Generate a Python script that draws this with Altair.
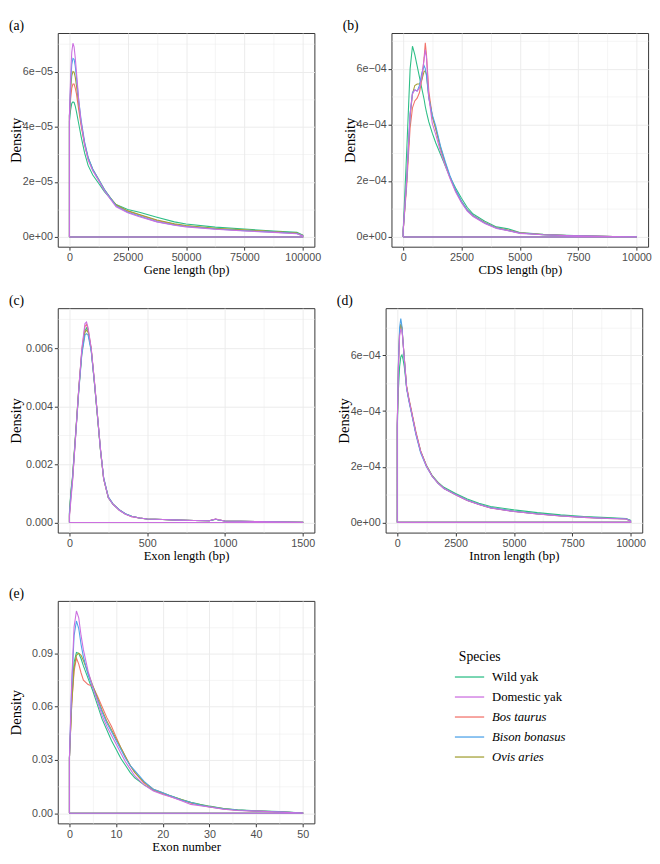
import json
import altair as alt
import pandas as pd

species = ["Wild yak", "Domestic yak", "Bos taurus", "Bison bonasus", "Ovis aries"]
colors = ["#2DBE86", "#CC6FE0", "#F2736B", "#4DA3E8", "#A3A035"]
draw_order = ["Wild yak", "Bos taurus", "Ovis aries", "Bison bonasus", "Domestic yak"]
italic_names = ["Bos taurus", "Bison bonasus", "Ovis aries"]

# (a) gene length, density in units of 1e-5
a_x = [0, 500, 1000, 1500, 2000, 2500, 3000, 4000, 5000, 6500, 8000, 10000, 12500, 15000,
       17500, 20000, 25000, 30000, 37500, 45000, 50000, 62500, 75000, 87500, 97500, 100000]
a_wild = [4.2, 4.6, 4.85, 4.9, 4.88, 4.75, 4.55, 4.1, 3.65, 3.05, 2.6, 2.25, 1.95, 1.65,
          1.4, 1.18, 1.0, 0.9, 0.72, 0.55, 0.47, 0.36, 0.29, 0.22, 0.17, 0.07]
a_dom = [4.4, 5.8, 6.7, 7.03, 6.9, 6.5, 6.0, 4.95, 4.15, 3.35, 2.8, 2.4, 2.05, 1.68,
         1.38, 1.1, 0.88, 0.74, 0.55, 0.43, 0.37, 0.28, 0.22, 0.17, 0.12, 0.04]
a_bos = [4.4, 5.0, 5.4, 5.55, 5.55, 5.4, 5.2, 4.6, 4.05, 3.35, 2.85, 2.45, 2.08, 1.7,
         1.42, 1.15, 0.94, 0.8, 0.6, 0.46, 0.4, 0.3, 0.24, 0.19, 0.14, 0.05]
a_bison = [4.4, 5.5, 6.25, 6.48, 6.45, 6.2, 5.8, 4.95, 4.25, 3.45, 2.9, 2.47, 2.1, 1.72,
           1.42, 1.13, 0.9, 0.76, 0.56, 0.44, 0.38, 0.29, 0.23, 0.18, 0.13, 0.05]
a_ovis = [4.4, 5.3, 5.85, 6.0, 5.98, 5.8, 5.5, 4.8, 4.15, 3.4, 2.88, 2.45, 2.1, 1.72,
          1.43, 1.17, 0.95, 0.82, 0.62, 0.48, 0.42, 0.32, 0.26, 0.2, 0.15, 0.06]
a_unit = 1e-5

# (b) CDS length, density in units of 1e-4
b_x = [0, 150, 300, 400, 500, 600, 700, 800, 900, 950, 1000, 1100, 1250, 1400, 1600, 1800,
       2000, 2250, 2500, 2750, 3000, 3500, 4000, 4500, 5000, 6000, 7000, 8000, 9000, 10000]
b_wild = [0.2, 3.0, 6.0, 6.8, 6.5, 6.1, 5.7, 5.3, 4.9, 4.65, 4.45, 4.1, 3.7, 3.35, 2.95, 2.55,
          2.15, 1.75, 1.38, 1.05, 0.82, 0.56, 0.36, 0.29, 0.16, 0.1, 0.06, 0.035, 0.02, 0.01]
b_dom = [0.2, 2.0, 4.4, 5.1, 5.25, 5.2, 5.3, 5.7, 6.35, 6.67, 6.4, 5.0, 4.05, 3.65, 3.05, 2.55,
         2.1, 1.6, 1.22, 0.92, 0.73, 0.48, 0.3, 0.22, 0.13, 0.08, 0.05, 0.03, 0.02, 0.01]
b_bos = [0.2, 1.8, 3.9, 4.6, 4.85, 4.95, 5.15, 5.6, 6.4, 6.92, 6.5, 5.2, 4.3, 3.85, 3.15, 2.6,
         2.15, 1.65, 1.27, 0.97, 0.77, 0.52, 0.33, 0.25, 0.15, 0.09, 0.05, 0.03, 0.02, 0.01]
b_bison = [0.2, 2.0, 4.4, 5.15, 5.24, 5.2, 5.4, 5.85, 6.1, 6.0, 5.75, 4.95, 4.35, 3.95, 3.25, 2.7,
           2.2, 1.68, 1.27, 0.96, 0.76, 0.5, 0.32, 0.23, 0.14, 0.08, 0.05, 0.03, 0.02, 0.01]
b_ovis = [0.2, 2.0, 4.3, 5.1, 5.4, 5.45, 5.45, 5.6, 5.9, 5.92, 5.8, 5.0, 4.3, 3.85, 3.2, 2.65,
          2.15, 1.65, 1.25, 0.95, 0.75, 0.5, 0.32, 0.23, 0.14, 0.08, 0.05, 0.03, 0.02, 0.01]
b_unit = 1e-4

# (c) exon length, density in units of 1e-3
c_x = [0, 10, 20, 40, 60, 80, 100, 110, 120, 140, 160, 180, 200, 220, 250, 280, 320, 360, 400,
       450, 500, 600, 700, 800, 900, 920, 940, 960, 1000, 1100, 1200, 1300, 1400, 1500]
c_wild = [0.35, 1.1, 1.6, 3.1, 4.6, 5.9, 6.6, 6.7, 6.6, 5.95, 4.85, 3.65, 2.45, 1.5, 0.85, 0.62,
          0.43, 0.29, 0.21, 0.15, 0.12, 0.1, 0.08, 0.065, 0.06, 0.085, 0.11, 0.085, 0.05, 0.04,
          0.03, 0.02, 0.012, 0.005]
c_dom = [0.2, 0.8, 1.4, 3.0, 4.6, 6.0, 6.85, 6.9, 6.7, 6.0, 4.9, 3.7, 2.5, 1.5, 0.85, 0.62,
         0.42, 0.28, 0.2, 0.15, 0.12, 0.1, 0.08, 0.065, 0.06, 0.09, 0.12, 0.09, 0.05, 0.04,
         0.03, 0.02, 0.012, 0.005]
c_bos = [0.25, 0.9, 1.45, 3.0, 4.6, 5.95, 6.75, 6.82, 6.65, 6.0, 4.9, 3.72, 2.5, 1.52, 0.87, 0.64,
         0.44, 0.29, 0.2, 0.15, 0.12, 0.1, 0.08, 0.065, 0.06, 0.09, 0.12, 0.09, 0.05, 0.04,
         0.03, 0.02, 0.012, 0.005]
c_bison = [0.3, 1.0, 1.5, 3.0, 4.5, 5.8, 6.45, 6.5, 6.45, 5.9, 4.85, 3.7, 2.5, 1.55, 0.88, 0.64,
           0.44, 0.3, 0.21, 0.15, 0.12, 0.1, 0.08, 0.065, 0.06, 0.085, 0.11, 0.085, 0.05, 0.04,
           0.03, 0.02, 0.012, 0.005]
c_ovis = [0.3, 1.05, 1.55, 3.05, 4.55, 5.85, 6.55, 6.62, 6.55, 5.95, 4.85, 3.68, 2.48, 1.52, 0.86,
          0.63, 0.43, 0.29, 0.21, 0.15, 0.12, 0.1, 0.08, 0.065, 0.06, 0.085, 0.11, 0.085, 0.05,
          0.04, 0.03, 0.02, 0.012, 0.005]
c_unit = 1e-3

# (d) intron length, density in units of 1e-4
d_x = [0, 50, 100, 150, 200, 250, 300, 400, 500, 600, 800, 1000, 1250, 1500, 1750, 2000, 2500,
       3000, 3500, 4000, 5000, 6000, 7000, 8000, 9000, 9800, 10000]
d_wild = [3.4, 4.8, 5.6, 5.95, 6.02, 5.85, 5.6, 4.85, 4.4, 4.0, 3.2, 2.55, 2.05, 1.68, 1.44, 1.26,
          1.04, 0.84, 0.69, 0.57, 0.45, 0.35, 0.27, 0.21, 0.17, 0.14, 0.07]
d_dom = [3.6, 5.6, 6.7, 6.93, 6.9, 6.45, 5.9, 4.85, 4.4, 4.0, 3.2, 2.55, 2.02, 1.65, 1.4, 1.22,
         0.99, 0.79, 0.64, 0.52, 0.39, 0.3, 0.23, 0.18, 0.14, 0.12, 0.05]
d_bos = [3.5, 5.65, 6.85, 7.1, 6.98, 6.45, 5.92, 4.9, 4.45, 4.05, 3.25, 2.58, 2.04, 1.66, 1.41,
         1.22, 0.99, 0.79, 0.64, 0.52, 0.39, 0.3, 0.23, 0.18, 0.14, 0.12, 0.05]
d_bison = [3.5, 5.8, 7.0, 7.33, 7.05, 6.45, 5.85, 4.8, 4.35, 3.95, 3.15, 2.5, 2.0, 1.65, 1.4, 1.22,
           1.0, 0.8, 0.65, 0.53, 0.4, 0.31, 0.24, 0.19, 0.15, 0.13, 0.06]
d_ovis = [3.5, 5.7, 6.9, 7.13, 7.0, 6.45, 5.9, 4.85, 4.4, 4.0, 3.2, 2.55, 2.03, 1.66, 1.41, 1.23,
          1.0, 0.8, 0.65, 0.53, 0.4, 0.31, 0.24, 0.19, 0.15, 0.13, 0.06]
d_unit = 1e-4

# (e) exon number, density
e_x = [0, 0.5, 1, 1.5, 2, 2.5, 3, 4, 5, 6, 7, 8, 9, 10, 11, 12, 13, 14, 16, 18, 20, 22, 24, 26,
       28, 30, 33, 36, 40, 45, 50]
e_wild = [0.031, 0.065, 0.085, 0.0906, 0.090, 0.087, 0.083, 0.076, 0.069, 0.061, 0.053, 0.047,
          0.041, 0.036, 0.031, 0.027, 0.023, 0.020, 0.016, 0.013, 0.011, 0.0095, 0.0078, 0.0062,
          0.005, 0.004, 0.0027, 0.0019, 0.0014, 0.0009, 0.0002]
e_dom = [0.031, 0.075, 0.105, 0.1139, 0.110, 0.100, 0.092, 0.080, 0.071, 0.063, 0.055, 0.049,
         0.044, 0.039, 0.034, 0.029, 0.025, 0.021, 0.016, 0.0125, 0.0105, 0.009, 0.007, 0.005,
         0.0042, 0.0035, 0.0023, 0.0016, 0.0012, 0.0007, 0.0002]
e_bos = [0.031, 0.062, 0.080, 0.0874, 0.084, 0.079, 0.075, 0.0725, 0.0715, 0.066, 0.060, 0.054,
         0.049, 0.043, 0.037, 0.032, 0.027, 0.023, 0.017, 0.0132, 0.011, 0.009, 0.0073, 0.0057,
         0.0045, 0.0036, 0.0024, 0.0017, 0.0012, 0.0007, 0.0002]
e_bison = [0.031, 0.072, 0.100, 0.1083, 0.104, 0.095, 0.088, 0.078, 0.071, 0.064, 0.057, 0.051,
           0.046, 0.041, 0.036, 0.031, 0.027, 0.024, 0.018, 0.0135, 0.0115, 0.0095, 0.0075, 0.006,
           0.0047, 0.0037, 0.0025, 0.0018, 0.0013, 0.0008, 0.0002]
e_ovis = [0.031, 0.062, 0.082, 0.089, 0.0902, 0.089, 0.086, 0.079, 0.072, 0.065, 0.058, 0.052,
          0.047, 0.042, 0.037, 0.032, 0.027, 0.023, 0.0175, 0.0135, 0.0115, 0.0095, 0.0077, 0.006,
          0.0048, 0.0038, 0.0026, 0.0018, 0.0013, 0.0008, 0.0002]
e_unit = 1.0

# tick labels
a_xticks = [0, 25000, 50000, 75000, 100000]
a_xlabels = ["0", "25000", "50000", "75000", "100000"]
a_yticks = [0, 2e-5, 4e-5, 6e-5]
a_ylabels = ["0e+00", "2e\u221205", "4e\u221205", "6e\u221205"]
b_xticks = [0, 2500, 5000, 7500, 10000]
b_xlabels = ["0", "2500", "5000", "7500", "10000"]
b_yticks = [0, 2e-4, 4e-4, 6e-4]
b_ylabels = ["0e+00", "2e\u221204", "4e\u221204", "6e\u221204"]
c_xticks = [0, 500, 1000, 1500]
c_xlabels = ["0", "500", "1000", "1500"]
c_yticks = [0, 0.002, 0.004, 0.006]
c_ylabels = ["0.000", "0.002", "0.004", "0.006"]
d_xticks = b_xticks
d_xlabels = b_xlabels
d_yticks = b_yticks
d_ylabels = b_ylabels
e_xticks = [0, 10, 20, 30, 40, 50]
e_xlabels = ["0", "10", "20", "30", "40", "50"]
e_yticks = [0, 0.03, 0.06, 0.09]
e_ylabels = ["0.00", "0.03", "0.06", "0.09"]

panel_labels = ["(a)", "(b)", "(c)", "(d)", "(e)"]
x_titles = ["Gene length (bp)", "CDS length (bp)", "Exon length (bp)", "Intron length (bp)", "Exon number"]


def build_df(xs, series, unit):
    rows = []
    for name in draw_order:
        ys = series[name]
        pts = [(xs[0], 0.0)] + [(x, y * unit) for x, y in zip(xs, ys)] + [(xs[-1], 0.0), (xs[0], 0.0)]
        for i, (x, y) in enumerate(pts):
            rows.append({"species": name, "x": x, "y": y, "i": i})
    return pd.DataFrame(rows)


def axis_values(ticks, dom_max):
    half = (ticks[1] - ticks[0]) / 2.0
    vals = []
    k = 0
    while ticks[0] + k * half <= dom_max + 1e-15:
        vals.append(ticks[0] + k * half)
        k += 1
    return vals, half


def make_axis(ticks, labels, dom_max, title, is_y):
    vals, half = axis_values(ticks, dom_max)
    major = f"round(datum.value / {half!r}) % 2 == 0"
    lab = json.dumps(labels, ensure_ascii=False)
    kw = dict(
        values=vals,
        labelExpr=f"{major} ? {lab}[round(datum.value / {half!r}) / 2] : ''",
        gridWidth={"condition": {"test": major, "value": 1.0}, "value": 0.5},
        tickOpacity={"condition": {"test": major, "value": 1}, "value": 0},
        gridColor="#EBEBEB",
        domain=False,
        tickSize=3.5,
        tickColor="#333333",
        labelPadding=2,
        labelFont="Liberation Sans",
        labelFontSize=11,
        labelColor="#4D4D4D",
        labelOverlap=False,
        labelFlush=False,
        title=title,
        titleFont="Liberation Serif",
        titleFontWeight="normal",
        titleColor="black",
    )
    if is_y:
        kw.update(titleFontSize=15, titlePadding=2, minExtent=33, maxExtent=33)
    else:
        kw.update(titleFontSize=13, titlePadding=1)
    return alt.Axis(**kw)


legend = alt.Legend(
    title="Species",
    orient="none",
    legendX=411,
    legendY=633,
    symbolType="M-1.5,0H1.5",
    symbolSize=400,
    symbolStrokeWidth=1.3,
    titleFont="Liberation Serif",
    titleFontSize=14,
    titleFontWeight="normal",
    titleColor="black",
    titlePadding=2,
    labelFont="Liberation Serif",
    labelFontSize=13,
    labelColor="black",
    labelOffset=12,
    labelFontStyle={"expr": "indexof(" + json.dumps(italic_names) + ", datum.label) >= 0 ? 'italic' : 'normal'"},
    rowPadding=2.5,
)


def panel(idx, xs, series, unit, xdom, ydom, xticks, xlabels, yticks, ylabels, h):
    df = build_df(xs, series, unit)
    lines = alt.Chart(df).mark_line(strokeWidth=1.1).encode(
        x=alt.X("x:Q", scale=alt.Scale(domain=xdom, nice=False, zero=False),
                axis=make_axis(xticks, xlabels, xdom[1], x_titles[idx], False)),
        y=alt.Y("y:Q", scale=alt.Scale(domain=ydom, nice=False, zero=False),
                axis=make_axis(yticks, ylabels, ydom[1], "Density", True)),
        color=alt.Color("species:N", scale=alt.Scale(domain=species, range=colors), legend=legend),
        order=alt.Order("i:Q"),
    )
    lab = alt.Chart(pd.DataFrame({"label": [panel_labels[idx]]})).mark_text(
        align="left", baseline="top", font="Liberation Serif", fontSize=14, color="black"
    ).encode(text="label:N", x=alt.value(-50), y=alt.value(-14))
    return alt.layer(lines, lab).properties(width=263, height=h)


def ser(w, d, bo, bi, o):
    return {"Wild yak": w, "Domestic yak": d, "Bos taurus": bo, "Bison bonasus": bi, "Ovis aries": o}


pa = panel(0, a_x, ser(a_wild, a_dom, a_bos, a_bison, a_ovis), a_unit, [-5000, 105000], [-3.5e-6, 7.4e-5],
           a_xticks, a_xlabels, a_yticks, a_ylabels, 219)
pb = panel(1, b_x, ser(b_wild, b_dom, b_bos, b_bison, b_ovis), b_unit, [-500, 10500], [-3.46e-5, 7.27e-4],
           b_xticks, b_xlabels, b_yticks, b_ylabels, 219)
pc = panel(2, c_x, ser(c_wild, c_dom, c_bos, c_bison, c_ovis), c_unit, [-75, 1575], [-0.00035, 0.00738],
           c_xticks, c_xlabels, c_yticks, c_ylabels, 230)
pd_ = panel(3, d_x, ser(d_wild, d_dom, d_bos, d_bison, d_ovis), d_unit, [-500, 10500], [-0.367e-4, 7.7e-4],
            d_xticks, d_xlabels, d_yticks, d_ylabels, 230)
pe = panel(4, e_x, ser(e_wild, e_dom, e_bos, e_bison, e_ovis), e_unit, [-2.5, 52.5], [-0.0057, 0.1196],
           e_xticks, e_xlabels, e_yticks, e_ylabels, 228)

row1 = alt.hconcat(pa, pb, spacing=21)
row2 = alt.hconcat(pc, pd_, spacing=21)
top = alt.vconcat(row1, row2, spacing=17)
chart = alt.vconcat(top, pe, spacing=24).properties(
    padding=0, background="white"
).configure_view(
    stroke="#333333", strokeWidth=1
)

chart.save("out.html", embed_options={"renderer": "svg", "actions": False})
